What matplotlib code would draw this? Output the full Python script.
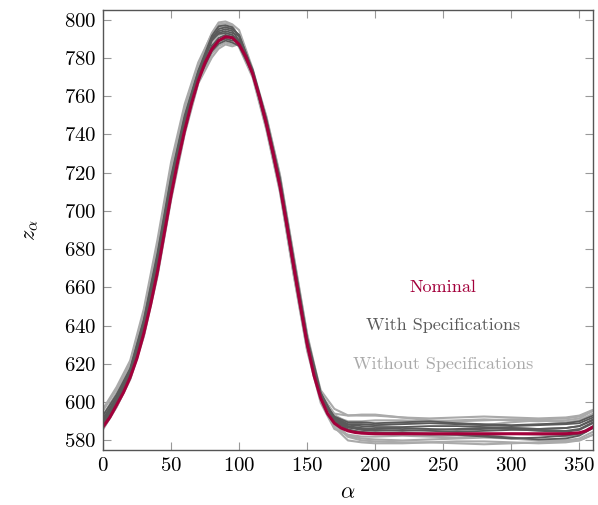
import matplotlib
matplotlib.use('Agg')
import matplotlib.pyplot as plt

plt.rcParams['font.family'] = 'serif'
plt.rcParams['font.serif'] = ['cmr10']
plt.rcParams['mathtext.fontset'] = 'cm'
plt.rcParams['axes.formatter.use_mathtext'] = True

# nominal curve
nom_x = [0, 5, 10, 15, 20, 25, 30, 35, 40, 45, 50, 55, 60, 65, 70, 75, 80, 85, 90, 95,
         100, 105, 110, 115, 120, 125, 130, 135, 140, 145, 150, 155, 160, 165, 170, 175,
         180, 185, 190, 200, 220, 240, 260, 280, 300, 320, 340, 350, 355, 360]
nom_z = [587, 592, 598.5, 605, 613, 623, 636, 651, 668, 688, 708, 726, 742, 756, 768, 777.5,
         784.5, 789, 791, 790.5, 787, 780.5, 771.5, 759.5, 745.5, 730, 713, 693, 671.5, 650.5, 630.5,
         614, 602, 594, 589, 586.5, 585, 584.2, 583.8, 583.5, 583.5, 583.5, 583.5, 583.5,
         583.5, 583.5, 583.5, 584, 585, 587]

# sample grid for the ensembles
ens_x = [0, 10, 20, 30, 40, 50, 60, 70, 80, 85, 90, 95, 100, 110, 120, 130, 140, 150, 160,
         170, 180, 190, 200, 220, 240, 260, 280, 300, 320, 340, 350, 360]

# with specifications
with_spec = [
    [591.3, 602.3, 616.3, 641.2, 675.2, 715.2, 747.9, 771.9, 790, 795, 796, 795, 792, 772.8, 746.8, 715, 672.4, 631.8, 603.2,
     591, 587.5, 586.5, 586, 586.5, 586, 585.5, 586, 586.5, 586, 586.5, 587.5, 591],
    [589.6, 600.6, 615.6, 639.9, 672.6, 713.2, 745.9, 770.6, 789, 793, 794, 793, 791.5, 773.7, 747.7, 716.5, 674.4, 633.2, 604.4,
     591.5, 586.8, 585.5, 585, 585.5, 585, 584.5, 585, 585.5, 585.5, 585, 586, 589.5],
    [593, 604, 617.6, 643.2, 677.8, 717.8, 749.8, 773.2, 791.5, 796.5, 797, 796, 791.3, 772.1, 745.5, 713.2, 670.6, 630, 602.6,
     592, 588.5, 588.5, 588, 588.5, 589, 588.5, 588, 587.5, 588, 588.5, 589, 592],
    [587.9, 599.8, 614.3, 638, 670.6, 710.6, 744, 769.3, 786.4, 790.4, 792, 791, 789.2, 772.6, 747, 715.7, 673.5, 632.4, 603.8,
     590, 585.5, 584.5, 584, 584, 583.5, 583, 582, 581, 581.5, 582.5, 583.5, 587.5],
    [590.4, 601.7, 615.9, 640.6, 674, 714.2, 746.9, 771.4, 790.5, 793.9, 795, 794, 789, 771.5, 744.5, 712.3, 669.7, 629.2, 602.6,
     592.5, 589.5, 589.5, 589, 589.5, 590, 589, 588.5, 588, 588.5, 589, 590, 593],
    [588.3, 600.2, 614.8, 638.7, 671.6, 711.7, 744.9, 770.1, 785.4, 788.8, 790, 789, 789, 773.3, 748.2, 717.3, 675.4, 634, 605,
     591, 585.8, 584, 583.5, 583.5, 583, 583, 582.5, 581.5, 580.5, 581, 582.5, 586.5],
    [590.8, 602.8, 617.1, 642.4, 676.5, 716.6, 748.8, 772.8, 790, 792.5, 793, 792, 788.8, 771.9, 745.7, 714, 671.5, 630.8, 603.5,
     591.4, 588.2, 587.5, 587, 587, 587.5, 587.5, 587, 586.5, 586, 586.5, 587.5, 590.5],
    [588.3, 599.1, 613.6, 636.9, 669.2, 709.2, 743, 768.7, 783.5, 787.3, 789, 788, 786.2, 771.5, 746.3, 714.8, 672.5, 631.6, 603.5,
     590.8, 586.8, 586, 585.5, 585, 585.5, 586, 586.5, 586, 585, 584.5, 585.5, 589],
]

# without specifications
without_spec = [
    [595.5, 606.8, 620.7, 646.9, 682.4, 722.8, 753.7, 776.2, 793, 798.5, 799, 797.5, 794.5, 774.2, 748.1, 716.5, 674.4, 633.2, 606.2,
     596.5, 593.1, 593, 593, 592, 591.5, 592, 592.5, 592, 591.5, 592, 593, 596],
    [585.7, 597.4, 611.8, 634.2, 665.6, 705.5, 740, 766.6, 780.2, 784.8, 787, 786, 787.2, 772.9, 748.9, 718.2, 676.4, 634.9, 603.8,
     588.2, 581.9, 580, 579.5, 579, 579, 579.5, 579.5, 579, 578.5, 579, 580, 583],
    [593, 604.9, 618.9, 645.1, 680, 720.4, 751.8, 774.8, 792, 797.5, 798, 797, 790.2, 771, 743.5, 710.7, 667.6, 627.6, 602,
     592.4, 590, 590, 590.5, 590.5, 590, 590.5, 591, 590.5, 590, 590.5, 591.5, 595.5],
    [586.2, 597.7, 612.4, 635.4, 667.4, 707.4, 741.4, 767.7, 782.1, 786.2, 788, 787, 788.6, 773.7, 749.6, 719, 677.3, 635.7, 605,
     589.1, 582.5, 581, 580.5, 580, 580.5, 581, 581.5, 581, 580, 580, 581, 584.5],
    [592.5, 604.4, 618.3, 644.2, 678.9, 719.1, 750.8, 774.2, 791, 795.5, 796, 795, 791.8, 772.8, 746.5, 714.8, 672.5, 631.6, 604.7,
     593.3, 589.3, 588.5, 588, 589, 590, 589, 588, 589.5, 590.5, 589.5, 590.5, 594],
    [588.7, 600.7, 615.3, 639.6, 672.8, 712.9, 745.9, 770.7, 788.3, 791.8, 793, 792, 785.5, 769.6, 742.4, 709.8, 666.7, 626.8, 599.6,
     586, 583, 582, 582, 582.5, 582, 581.5, 582.5, 583.5, 583, 582, 583, 586.5],
    [596.4, 607.9, 621.8, 648.7, 684.8, 725.3, 755.7, 777.6, 792.5, 797, 797, 795.5, 791.3, 772.1, 745.5, 713.2, 670.6, 630.2, 603.8,
     594, 593, 593.5, 593.5, 592, 590.5, 590, 590.5, 591, 591, 591.5, 592.5, 595.5],
    [586.2, 597.9, 612.4, 635.1, 666.8, 706.8, 741, 767.3, 783.2, 788, 790, 789, 789, 773.3, 748.2, 717.3, 675.4, 634, 603.2,
     586.9, 580, 579, 578.5, 578.5, 579, 578.5, 578, 578.5, 579, 579.5, 580, 583],
]

c_nom = '#a3003b'
c_with = '#5a5a5a'
c_without = '#aaaaaa'

fig = plt.figure(figsize=(5.98, 5.05), dpi=100)
ax = fig.add_axes([0.1722, 0.1089, 0.8194, 0.8713])

for z in without_spec:
    ax.plot(ens_x, z, color=c_without, lw=1.5, solid_capstyle='round')
for z in with_spec:
    ax.plot(ens_x, z, color=c_with, lw=1.3, solid_capstyle='round')
ax.plot(nom_x, nom_z, color=c_nom, lw=2.2)

ax.text(250, 660, 'Nominal', color=c_nom, fontsize=13, ha='center', va='center')
ax.text(250, 640, 'With Specifications', color=c_with, fontsize=13, ha='center', va='center')
ax.text(250, 620, 'Without Specifications', color=c_without, fontsize=13, ha='center', va='center')

ax.set_xlim(0, 360)
ax.set_ylim(575, 805)
ax.set_xticks([0, 50, 100, 150, 200, 250, 300, 350])
ax.set_yticks(range(580, 801, 20))
ax.tick_params(direction='in', top=True, right=True, length=6, width=0.8,
               color='#999999', labelsize=15, pad=5)
for s in ax.spines.values():
    s.set_color('#555555')
    s.set_linewidth(1.0)

ax.set_xlabel(r'$\alpha$', fontsize=16)
ax.set_ylabel(r'$z_\alpha$', fontsize=16)
ax.xaxis.set_label_coords(0.5, -0.075)
ax.yaxis.set_label_coords(-0.127, 0.5)

fig.savefig('out.png', dpi=100)
